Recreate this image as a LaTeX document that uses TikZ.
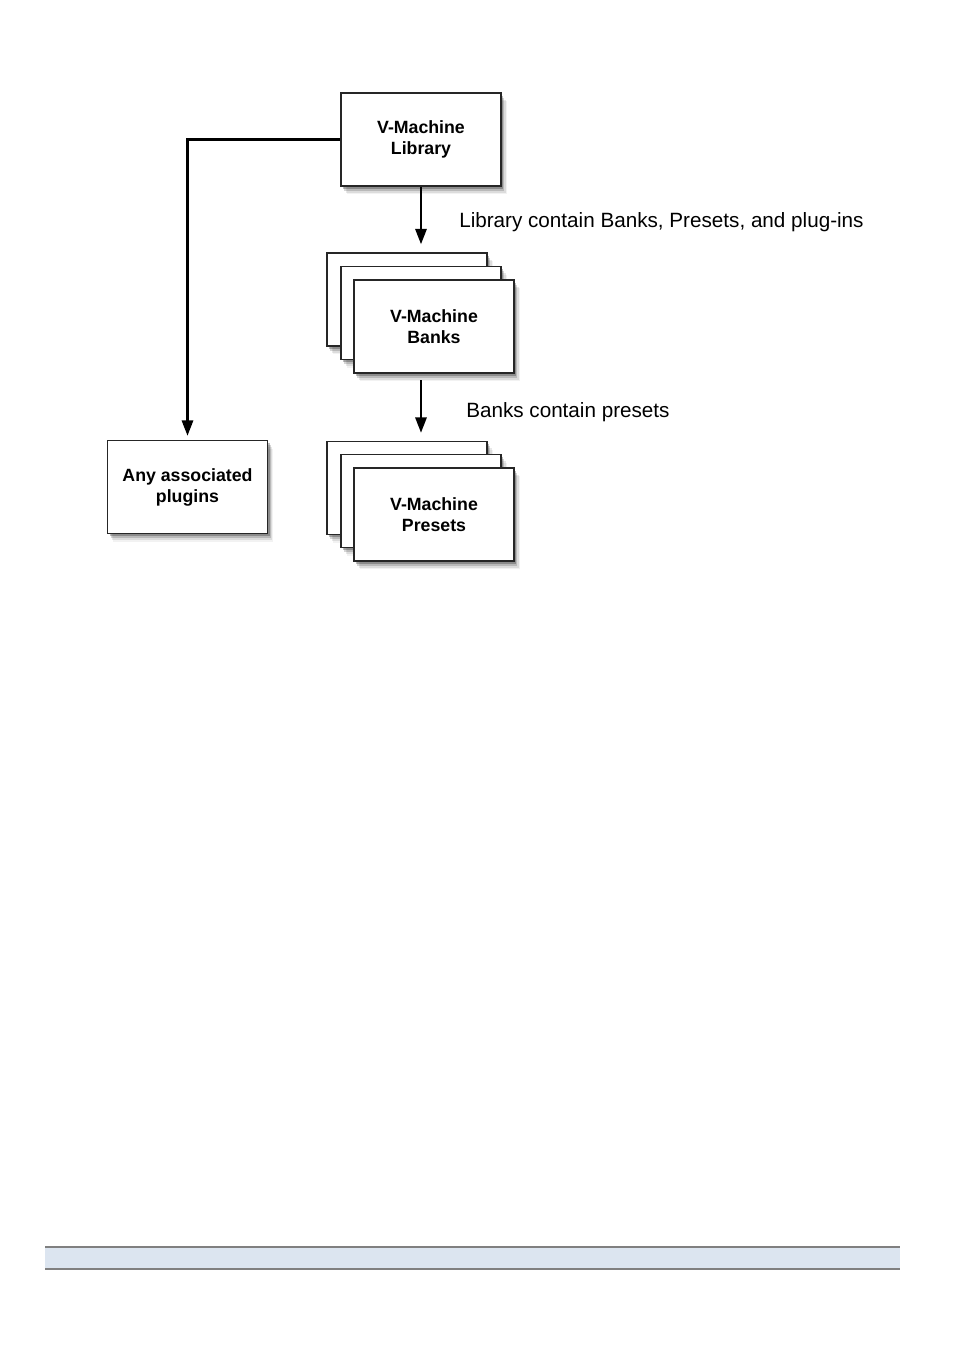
\documentclass[tikz,border=0pt]{standalone}
\usepackage{fontspec}
\setmainfont{Liberation Sans}
\usetikzlibrary{arrows.meta,shadows}
\definecolor{barblue}{HTML}{DCE5F0}
\definecolor{bargray}{HTML}{808080}
\begin{document}
\begin{tikzpicture}[x=0.75pt,y=-0.75pt,
  soft/.style={
    general shadow={shadow xshift=1.5pt,shadow yshift=-2pt,fill=black,opacity=0.25},
    general shadow={shadow xshift=2.5pt,shadow yshift=-3.5pt,fill=black,opacity=0.16},
    general shadow={shadow xshift=3.5pt,shadow yshift=-5pt,fill=black,opacity=0.09},
    general shadow={shadow xshift=4.2pt,shadow yshift=-6.2pt,fill=black,opacity=0.05}},
  box/.style={soft,draw=black!85,line width=1.2pt,fill=white,minimum width=120pt,
    minimum height=69.75pt,inner sep=0pt,align=center,
    font=\bfseries\fontsize{13.3}{15.8}\selectfont},
  conn/.style={line width=1.6pt,-{Triangle[length=11.5pt,width=8.5pt]}},
  lbl/.style={anchor=west,inner sep=0pt,font=\fontsize{15.5}{18}\selectfont}]
\useasboundingbox (0,0) rectangle (954,1350);
% library
\node[box] (lib) at (421,139.5) {V-Machine\\Library};
% banks stack
\node[box] (bankC) at (407,299.5) {};
\node[box] (bankB) at (421,313) {};
\node[box] (bankA) at (434,326.5) {V-Machine\\Banks};
% presets stack
\node[box] (presC) at (407,488) {};
\node[box] (presB) at (421,501) {};
\node[box] (presA) at (434,514.5) {V-Machine\\Presets};
% plugins
\node[box] (plug) at (187.5,487) {Any associated\\plugins};
% connectors
\draw[conn,shorten >=6pt] (lib.south) -- (lib.south |- bankC.north);
\coordinate (bs) at (421,380);
\draw[conn,shorten >=6pt] (bs) -- (bs |- presC.north);
\draw[conn,shorten >=3pt] (lib.west) -- (lib.west -| plug.north) -- (plug.north);
% labels
\node[lbl] (l1) at (459,222) {Library contain Banks, Presets, and plug-ins};
\node[lbl] (l2) at (466,412) {Banks contain presets};
% bottom bar
\fill[barblue] (45,1247) rectangle (900,1269);
\draw[bargray,line width=1.5pt] (45,1247) -- (900,1247) (45,1269) -- (900,1269);
\end{tikzpicture}
\end{document}
